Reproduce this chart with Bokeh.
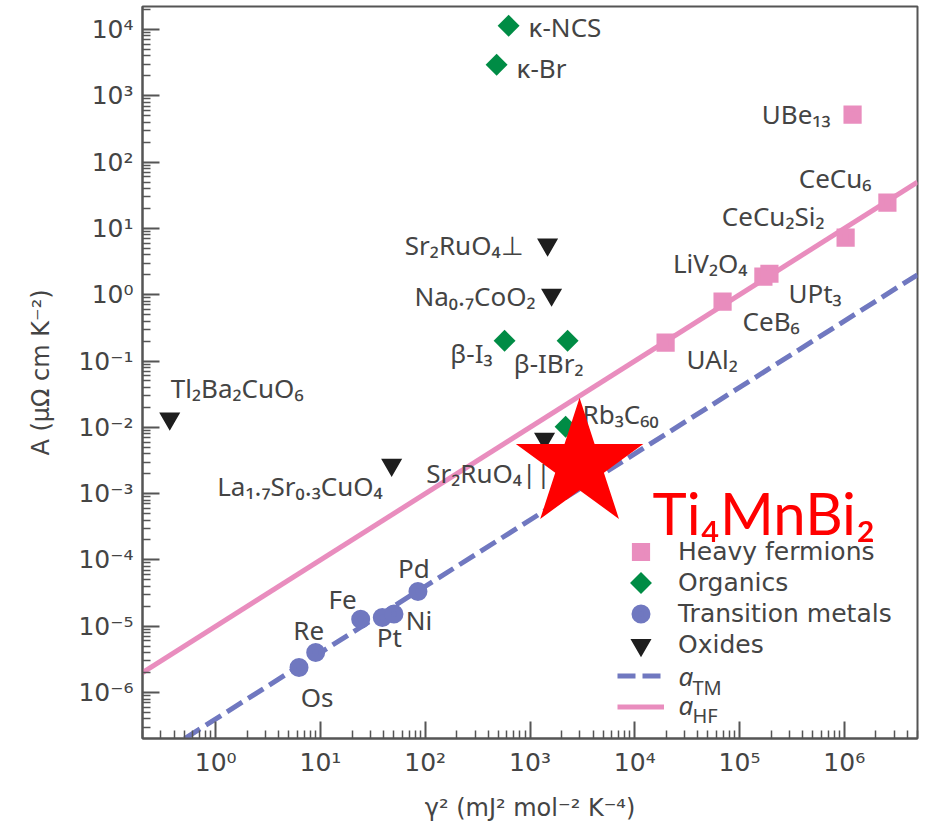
import math
from bokeh.plotting import figure
from bokeh.models import (ColumnDataSource, FixedTicker, CustomJSTickFormatter,
                          Legend, LegendItem, Label, Range1d, LinearScale)
from bokeh.core.properties import value
from bokeh.embed import file_html
from bokeh.resources import INLINE

# ---------------- data ----------------
hf_names = ["UAl₂", "CeB₆", "LiV₂O₄", "UPt₃", "CeCu₂Si₂", "CeCu₆", "UBe₁₃"]
hf_gamma2 = [1.97e4, 6.89e4, 1.69e5, 1.93e5, 1.03e6, 2.58e6, 1.20e6]
hf_A = [0.189, 0.784, 1.87, 2.07, 7.24, 24.4, 519]

org_names = ["κ-NCS", "κ-Br", "β-I₃", "β-IBr₂", "Rb₃C₆₀"]
org_gamma2 = [625, 480, 572, 2285, 2187]
org_A = [1.14e4, 2945, 0.202, 0.202, 0.0102]

tm_names = ["Os", "Re", "Fe", "Pt", "Ni", "Pd"]
tm_gamma2 = [6.24, 9.0, 24.2, 38.9, 50.3, 85.2]
tm_A = [2.39e-6, 4.03e-6, 1.28e-5, 1.36e-5, 1.53e-5, 3.35e-5]

ox_names = ["Sr₂RuO₄⊥", "Na₀.₇CoO₂", "Tl₂Ba₂CuO₆", "La₁.₇Sr₀.₃CuO₄", "Sr₂RuO₄||"]
ox_gamma2 = [1472, 1607, 0.364, 47.8, 1377]
ox_A = [5.68, 1.0, 0.0135, 0.00273, 0.00673]

new_name = "Ti₄MnBi₂"
new_gamma2 = [2973]
new_A = [0.00273]

a_TM = 4.0e-7   # transition-metal Kadowaki-Woods ratio
a_HF = 1.0e-5   # heavy-fermion Kadowaki-Woods ratio

x_decades = list(range(0, 7))
y_decades = list(range(-6, 5))
x_lims = [0.2, 5.0e6]
y_lims = [2.03e-7, 2.22e4]

legend_labels = ["Heavy fermions", "Organics", "Transition metals", "Oxides"]

# ---------------- styles ----------------
PINK = "#E98DBE"
GREEN = "#008C45"
BLUE = "#7078C0"
BLACK = "#1E1E1E"
RED = "#FF0000"
TXT = "#444444"
AX = "#555555"
FONT = "DejaVu Sans"
LFONT = "Noto Sans"
FRAME_W, FRAME_H = 775, 732

p = figure(width=929, height=826, x_axis_type="log", y_axis_type="log",
           x_range=Range1d(*x_lims), y_range=Range1d(*y_lims),
           output_backend="svg", toolbar_location=None,
           min_border_left=142, min_border_right=12,
           min_border_top=6, min_border_bottom=88)
p.grid.visible = False
p.outline_line_color = AX
p.outline_line_width = 2
p.background_fill_color = "white"
p.border_fill_color = "white"
# pixel-space ranges, used only to place the legend's diamond key
p.extra_x_ranges = {"px": Range1d(0, FRAME_W)}
p.extra_y_ranges = {"px": Range1d(0, FRAME_H)}
p.extra_x_scales = {"px": LinearScale()}
p.extra_y_scales = {"px": LinearScale()}

fmt = CustomJSTickFormatter(code="""
const sup = {'0':'\u2070','1':'\u00b9','2':'\u00b2','3':'\u00b3','4':'\u2074','5':'\u2075',
             '6':'\u2076','7':'\u2077','8':'\u2078','9':'\u2079','-':'\u207b'};
const e = Math.round(Math.log10(tick));
return '10' + String(e).split('').map(c => sup[c]).join('');
""")

x_minor = [m * 10.0 ** k for k in range(-1, 7) for m in range(2, 10)]
y_minor = [m * 10.0 ** k for k in range(-7, 5) for m in range(2, 10)]
p.xaxis.ticker = FixedTicker(ticks=[10.0 ** k for k in x_decades], minor_ticks=x_minor)
p.yaxis.ticker = FixedTicker(ticks=[10.0 ** k for k in y_decades], minor_ticks=y_minor)

for ax in (p.xaxis[0], p.yaxis[0]):
    ax.formatter = fmt
    ax.major_tick_in = 17
    ax.major_tick_out = 0
    ax.minor_tick_in = 8
    ax.minor_tick_out = 0
    ax.axis_line_color = AX
    ax.axis_line_width = 2
    ax.major_tick_line_color = AX
    ax.major_tick_line_width = 2
    ax.minor_tick_line_color = AX
    ax.minor_tick_line_width = 1.5
    ax.major_label_text_font = FONT
    ax.major_label_text_font_size = "25px"
    ax.major_label_text_color = TXT
    ax.axis_label_text_font = FONT
    ax.axis_label_text_font_size = "24px"
    ax.axis_label_text_color = TXT
    ax.axis_label_text_font_style = "normal"

p.xaxis.axis_label = "γ² (mJ² mol⁻² K⁻⁴)"
p.yaxis.axis_label = "A (μΩ cm K⁻²)"
p.xaxis.major_label_standoff = 9
p.yaxis.major_label_standoff = 9
p.xaxis.axis_label_standoff = 14
p.yaxis.axis_label_standoff = 20

# fit lines
fit_x = x_lims
r_tm_line = p.line(fit_x, [a_TM * v for v in fit_x], line_color=BLUE, line_width=5,
                   line_dash="18 7")
r_hf_line = p.line(fit_x, [a_HF * v for v in fit_x], line_color=PINK, line_width=5)

# markers (small core + thick outline, so the legend shows the same size)
r_hf = p.scatter(hf_gamma2, hf_A, marker="square", size=12.4, fill_color=PINK,
                 line_color=PINK, line_width=5.8, line_join="miter")
r_org = p.scatter(org_gamma2, org_A, marker="square", angle=math.pi / 4, size=15.5,
                  fill_color=GREEN, line_color=None)
r_tm = p.scatter(tm_gamma2, tm_A, marker="circle", size=12.4, fill_color=BLUE,
                 line_color=BLUE, line_width=6.6)
r_ox = p.scatter(ox_gamma2, ox_A, marker="inverted_triangle", size=12.4, fill_color=BLACK,
                 line_color=BLACK, line_width=5, line_join="miter")
# invisible proxy for the organics legend entry (its rotated key is drawn below)
r_org_proxy = p.scatter([float("nan")], [float("nan")], marker="square", size=1,
                        fill_alpha=0, line_alpha=0)

# label placement (pixel offsets from the point, alignment)
label_layout = {
    "UAl₂": (21, 16, "left"), "CeB₆": (20, 19, "left"), "LiV₂O₄": (-16, -14, "right"),
    "UPt₃": (19, 19, "left"), "CeCu₂Si₂": (-21, -22, "right"), "CeCu₆": (-16, -25, "right"),
    "UBe₁₃": (-22, -1, "right"),
    "κ-NCS": (20, 1, "left"), "κ-Br": (20, 3, "left"), "β-I₃": (-12, 12, "right"),
    "β-IBr₂": (16, 22, "right"), "Rb₃C₆₀": (17, -13, "left"),
    "Os": (18, 30, "center"), "Re": (-7, -22, "center"), "Fe": (-18, -20, "center"),
    "Pt": (7, 20, "center"), "Ni": (25, 6, "center"), "Pd": (-4, -23, "center"),
    "Sr₂RuO₄⊥": (-24, 0, "right"), "Na₀.₇CoO₂": (-16, 1, "right"),
    "Tl₂Ba₂CuO₆": (1, -31, "left"), "La₁.₇Sr₀.₃CuO₄": (-9, 21, "right"),
    "Sr₂RuO₄||": (6, 34, "right"),
}

groups = {"left": dict(x=[], y=[], text=[], dx=[], dy=[]),
          "right": dict(x=[], y=[], text=[], dx=[], dy=[]),
          "center": dict(x=[], y=[], text=[], dx=[], dy=[])}
for names, xs, ys in ((hf_names, hf_gamma2, hf_A), (org_names, org_gamma2, org_A),
                      (tm_names, tm_gamma2, tm_A), (ox_names, ox_gamma2, ox_A)):
    for n, xv, yv in zip(names, xs, ys):
        dx, dy, al = label_layout[n]
        g = groups[al]
        g["x"].append(xv); g["y"].append(yv); g["text"].append(n)
        g["dx"].append(dx); g["dy"].append(dy)

for al, g in groups.items():
    p.text(x="x", y="y", text="text", x_offset="dx", y_offset="dy",
           source=ColumnDataSource(g), text_align=al, text_baseline="middle",
           text_font=value(LFONT), text_font_size="26px", text_color=TXT)

# new compound
p.scatter(new_gamma2, new_A, marker="star", size=134, fill_color=RED, line_color=None)
p.text(x=new_gamma2, y=new_A, text=[new_name], x_offset=73, y_offset=48,
       text_align="left", text_baseline="alphabetic", text_font=value("Lato"),
       text_font_size="58px", text_color=RED)

# legend
legend = Legend(items=[
    LegendItem(label=legend_labels[0], renderers=[r_hf]),
    LegendItem(label=legend_labels[1], renderers=[r_org_proxy]),
    LegendItem(label=legend_labels[2], renderers=[r_tm]),
    LegendItem(label=legend_labels[3], renderers=[r_ox]),
    LegendItem(label=" ", renderers=[r_tm_line]),
    LegendItem(label=" ", renderers=[r_hf_line]),
], location=(475, 16), glyph_width=47, glyph_height=31, label_height=31, spacing=0,
    padding=0, margin=0, border_line_color=None, background_fill_alpha=0,
    label_standoff=14, label_text_font=FONT, label_text_font_size="25px",
    label_text_color=TXT)
p.add_layout(legend)

# rotated-square key for the "Organics" legend row (pixel space of the frame)
p.scatter(x=[475 + 47 / 2], y=[16 + 31 * 4.5], x_range_name="px", y_range_name="px",
          marker="square", angle=math.pi / 4, size=15.5, fill_color=GREEN, line_color=None)

for txt, xx, yy, fs, st in (("a", 536, 63, "26px", "italic"), ("TM", 550, 51, "20px", "normal"),
                            ("a", 536, 34, "26px", "italic"), ("HF", 550, 23, "20px", "normal")):
    p.add_layout(Label(x=xx, y=yy, x_units="screen", y_units="screen", text=txt,
                       text_font=LFONT, text_font_size=fs, text_font_style=st,
                       text_color=TXT, text_baseline="middle", text_align="left"))

open("out.html", "w").write(file_html(p, INLINE))
